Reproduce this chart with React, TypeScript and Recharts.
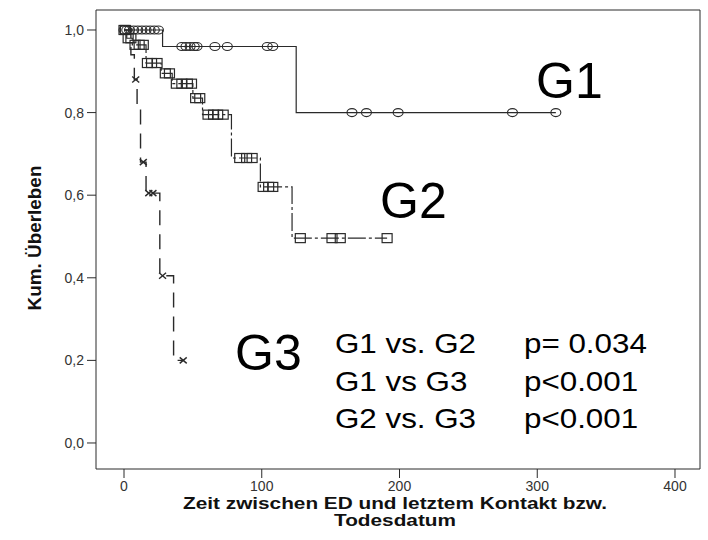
import { ComposedChart, Line, ReferenceLine, Scatter, XAxis, YAxis } from "recharts";

type Pt = { t: number; s: number };

const xDomain = [-20.33, 418.15];
const yDomain = [-0.063, 1.0484];
const xTicks = [0, 100, 200, 300, 400];
const yTicks = [0, 0.2, 0.4, 0.6, 0.8, 1.0];

// Kaplan-Meier steps: time of event and survival after it
const g1Steps: Pt[] = [
  { t: 0, s: 1.0 },
  { t: 28, s: 0.96 },
  { t: 125, s: 0.8 },
  { t: 313.5, s: 0.8 },
];
const g2Steps: Pt[] = [
  { t: 0, s: 1.0 },
  { t: 2, s: 0.98 },
  { t: 6, s: 0.964 },
  { t: 16, s: 0.92 },
  { t: 27, s: 0.895 },
  { t: 35, s: 0.87 },
  { t: 50, s: 0.835 },
  { t: 57, s: 0.795 },
  { t: 78, s: 0.69 },
  { t: 99, s: 0.62 },
  { t: 122, s: 0.496 },
  { t: 191, s: 0.496 },
];
const g3Steps: Pt[] = [
  { t: 0, s: 1.0 },
  { t: 5, s: 0.94 },
  { t: 7.5, s: 0.88 },
  { t: 9.5, s: 0.81 },
  { t: 12, s: 0.68 },
  { t: 16, s: 0.605 },
  { t: 26, s: 0.405 },
  { t: 36, s: 0.2 },
  { t: 43, s: 0.2 },
];

// censored cases
const g1Censored: Pt[] = [
  { t: 0, s: 1.0 }, { t: 2, s: 1.0 }, { t: 4, s: 1.0 }, { t: 7, s: 1.0 },
  { t: 10, s: 1.0 }, { t: 13, s: 1.0 }, { t: 16, s: 1.0 }, { t: 19, s: 1.0 },
  { t: 22, s: 1.0 }, { t: 25, s: 1.0 },
  { t: 42, s: 0.96 }, { t: 45, s: 0.96 }, { t: 48, s: 0.96 }, { t: 51, s: 0.96 },
  { t: 53, s: 0.96 }, { t: 66, s: 0.96 }, { t: 75, s: 0.96 }, { t: 104, s: 0.96 },
  { t: 108, s: 0.96 },
  { t: 165.5, s: 0.8 }, { t: 176, s: 0.8 }, { t: 199, s: 0.8 }, { t: 282, s: 0.8 },
  { t: 313.5, s: 0.8 },
];
const g2Censored: Pt[] = [
  { t: 0, s: 1.0 }, { t: 1, s: 1.0 },
  { t: 3, s: 0.98 }, { t: 5, s: 0.98 },
  { t: 8, s: 0.964 }, { t: 11, s: 0.964 }, { t: 14, s: 0.964 },
  { t: 17, s: 0.92 }, { t: 20, s: 0.92 }, { t: 24, s: 0.92 },
  { t: 30, s: 0.895 }, { t: 33, s: 0.895 },
  { t: 38, s: 0.87 }, { t: 42, s: 0.87 }, { t: 46, s: 0.87 }, { t: 49, s: 0.87 },
  { t: 52, s: 0.835 }, { t: 55, s: 0.835 },
  { t: 61, s: 0.795 }, { t: 65, s: 0.795 }, { t: 68, s: 0.795 }, { t: 72, s: 0.795 },
  { t: 84, s: 0.69 }, { t: 89, s: 0.69 }, { t: 93, s: 0.69 },
  { t: 101, s: 0.62 }, { t: 105, s: 0.62 }, { t: 108, s: 0.62 },
  { t: 128, s: 0.496 }, { t: 151, s: 0.496 }, { t: 157, s: 0.496 }, { t: 191, s: 0.496 },
];
const g3Censored: Pt[] = [
  { t: 8.5, s: 0.88 },
  { t: 14, s: 0.68 },
  { t: 18, s: 0.605 },
  { t: 21, s: 0.605 },
  { t: 28, s: 0.405 },
  { t: 43, s: 0.2 },
];

const groupLabels = ["G1", "G2", "G3"];
const comparisons = ["G1 vs. G2", "G1 vs G3", "G2 vs. G3"];
const pValues = ["p= 0.034", "p<0.001", "p<0.001"];

const FONT = "Arial, 'Liberation Sans', Helvetica, sans-serif";
const INK = "#2a2a2a";

const circle = (p: any) => (
  <ellipse cx={p.cx} cy={p.cy} rx={5} ry={4} fill="none" stroke={INK} strokeWidth={1.1} />
);
const square = (p: any) => (
  <rect x={p.cx - 5} y={p.cy - 4.5} width={10} height={9} fill="none" stroke={INK} strokeWidth={1.2} />
);
const cross = (p: any) => (
  <g stroke={INK} strokeWidth={1.4}>
    <line x1={p.cx - 3.5} y1={p.cy - 3} x2={p.cx + 3.5} y2={p.cy + 3} />
    <line x1={p.cx - 3.5} y1={p.cy + 3} x2={p.cx + 3.5} y2={p.cy - 3} />
  </g>
);

export default function App() {
  const tickStyle = { fontSize: 14, fill: "#333", fontFamily: FONT };
  return (
    <div style={{ position: "absolute", left: 0, top: 0, width: 708, height: 540, background: "#fff" }}>
      <ComposedChart
        width={708}
        height={540}
        margin={{ top: 10, right: 8, bottom: 41, left: 0 }}
      >
        <XAxis
          dataKey="t"
          type="number"
          domain={xDomain}
          allowDataOverflow
          ticks={xTicks}
          tick={tickStyle}
          tickSize={9}
          tickMargin={3}
          height={30}
          stroke={INK}
        />
        <YAxis
          dataKey="s"
          type="number"
          domain={yDomain}
          allowDataOverflow
          ticks={yTicks}
          tick={tickStyle}
          tickFormatter={(v: number) => v.toFixed(1).replace(".", ",")}
          tickSize={9}
          tickMargin={3}
          width={96}
          stroke={INK}
        />
        {/* box around the plot */}
        <ReferenceLine y={yDomain[1]} stroke={INK} ifOverflow="extendDomain" />
        <ReferenceLine x={xDomain[1]} stroke={INK} ifOverflow="extendDomain" />

        <Line data={g1Steps} dataKey="s" type="stepAfter" stroke={INK} strokeWidth={1.2} dot={false} activeDot={false} isAnimationActive={false} />
        <Line data={g2Steps} dataKey="s" type="stepAfter" stroke={INK} strokeWidth={1.2} strokeDasharray="18 3 3 3" dot={false} activeDot={false} isAnimationActive={false} />
        <Line data={g3Steps} dataKey="s" type="stepAfter" stroke={INK} strokeWidth={1.4} strokeDasharray="15 9" dot={false} activeDot={false} isAnimationActive={false} />

        <Scatter data={g1Censored} dataKey="s" shape={circle} isAnimationActive={false} />
        <Scatter data={g2Censored} dataKey="s" shape={square} isAnimationActive={false} />
        <Scatter data={g3Censored} dataKey="s" shape={cross} isAnimationActive={false} />
      </ComposedChart>

      <svg
        width={708}
        height={540}
        style={{ position: "absolute", left: 0, top: 0, pointerEvents: "none" }}
        fontFamily={FONT}
      >
        <text x={536} y={98} fontSize={50} fill="#000">{groupLabels[0]}</text>
        <text x={380} y={218} fontSize={50} fill="#000">{groupLabels[1]}</text>
        <text x={235} y={370} fontSize={50} fill="#000">{groupLabels[2]}</text>
        {comparisons.map((c, i) => (
          <g key={c} transform={`translate(0, ${353 + i * 37.5}) scale(1.1, 1)`}>
            <text x={335 / 1.1} y={0} fontSize={28.5} fill="#000">{c}</text>
            <text x={524 / 1.1} y={0} fontSize={28.5} fill="#000">{pValues[i]}</text>
          </g>
        ))}
        <g transform="translate(395, 0) scale(1.26, 1)" fontWeight="bold" fontSize={16.5} fill="#111">
          <text x={0} y={509} textAnchor="middle">Zeit zwischen ED und letztem Kontakt bzw.</text>
          <text x={0} y={526} textAnchor="middle">Todesdatum</text>
        </g>
        <text
          transform="translate(41, 238) rotate(-90) scale(1.08, 1)"
          textAnchor="middle"
          fontWeight="bold"
          fontSize={17.5}
          fill="#111"
        >
          Kum. Überleben
        </text>
      </svg>
    </div>
  );
}
